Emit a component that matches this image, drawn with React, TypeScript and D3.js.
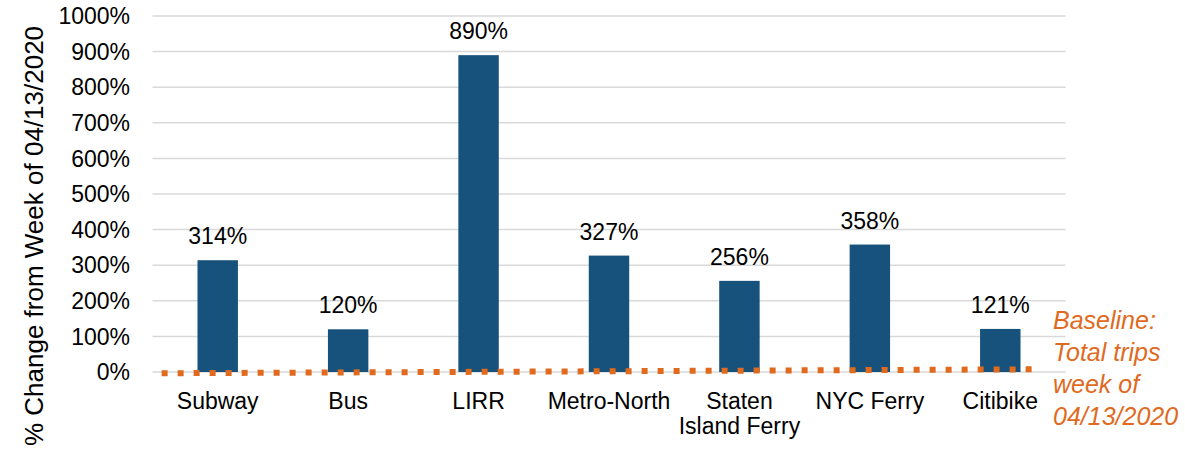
import React from "react";
import * as d3 from "d3";

const categories = ["Subway", "Bus", "LIRR", "Metro-North", "Staten\nIsland Ferry", "NYC Ferry", "Citibike"];
const values = [314, 120, 890, 327, 256, 358, 121];
const yTicks = [0, 100, 200, 300, 400, 500, 600, 700, 800, 900, 1000];
// baseline dotted line: positions in category-step units relative to first category centre, values in %
const baselineX = [-0.43, 6.25];
const baselineY = [-3.5, 7.5];
const baselineNote = ["Baseline:", "Total trips", "week of", "04/13/2020"];
const yTitle = "% Change from Week of 04/13/2020";

const W = 1185;
const H = 455;
const left = 152.5;
const right = 1065.5;
const top = 16;
const bottom = 372;

const BAR = "#16527c";
const ORANGE = "#e06a1e";
const FONT = "'Liberation Sans', Arial, sans-serif";

export default function App() {
  const x = d3
    .scaleBand<string>()
    .domain(categories)
    .range([left, right])
    .paddingInner(0.69)
    .paddingOuter(0.345);
  const y = d3.scaleLinear().domain([0, 1000]).range([bottom, top]);
  const step = x.step();
  const c0 = (x(categories[0]) as number) + x.bandwidth() / 2;
  const bx = d3.scaleLinear().domain([0, 1]).range([c0, c0 + step]);
  const line = d3
    .line<number>()
    .x((_, i) => bx(baselineX[i]))
    .y((d) => y(d));

  return (
    <svg
      width={W}
      height={H}
      style={{ position: "absolute", left: 0, top: 0, display: "block", background: "#fff" }}
      fontFamily={FONT}
    >
      {yTicks.map((t) => (
        <g key={t}>
          <line x1={left} x2={right} y1={y(t)} y2={y(t)} stroke="#d9d9d9" strokeWidth={1.5} />
          <text x={130} y={y(t)} dy="0.36em" textAnchor="end" fontSize={23} fill="#000">
            {t}%
          </text>
        </g>
      ))}
      {categories.map((c, i) => {
        const bx0 = x(c) as number;
        const cx = bx0 + x.bandwidth() / 2;
        return (
          <g key={c}>
            <rect x={bx0} y={y(values[i])} width={x.bandwidth()} height={y(0) - y(values[i])} fill={BAR} />
            <text x={cx} y={y(values[i]) - 16} textAnchor="middle" fontSize={23} fill="#000">
              {values[i]}%
            </text>
            {c.split("\n").map((ln, j) => (
              <text key={j} x={cx} y={409 + j * 25} textAnchor="middle" fontSize={23} fill="#000">
                {ln}
              </text>
            ))}
          </g>
        );
      })}
      <path
        d={line(baselineY) as string}
        fill="none"
        stroke={ORANGE}
        strokeWidth={6}
        strokeDasharray="6 10"
      />
      {baselineNote.map((t, i) => (
        <text key={i} x={1053} y={329 + i * 32} fontSize={25} fontStyle="italic" fill={ORANGE}>
          {t}
        </text>
      ))}
      <text
        transform={`translate(42.5, 236) rotate(-90)`}
        textAnchor="middle"
        fontSize={26}
        fill="#000"
      >
        {yTitle}
      </text>
    </svg>
  );
}
